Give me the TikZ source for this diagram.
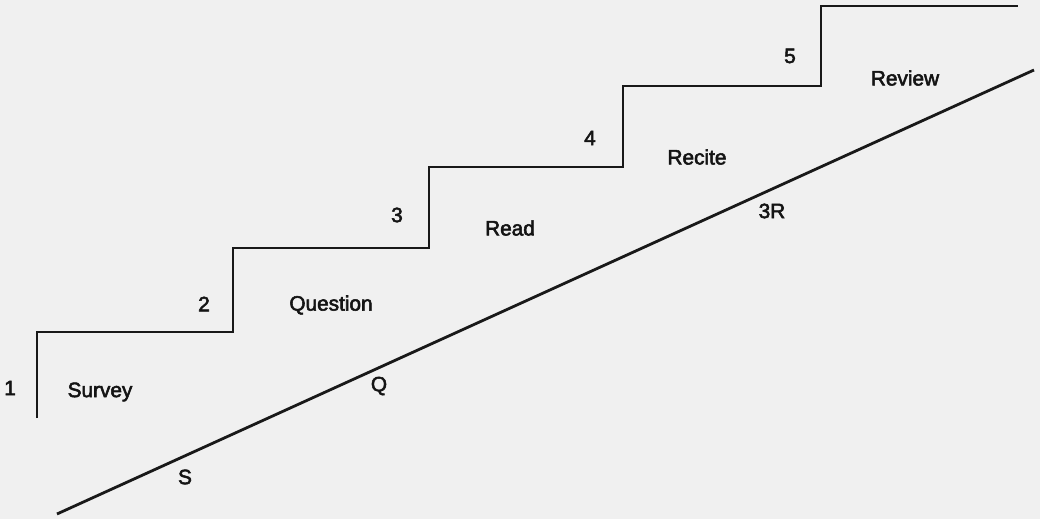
\documentclass[tikz,border=0pt]{standalone}
\usepackage{fontspec}
\setmainfont{Liberation Sans}
\newfontfamily\lblfont{Liberation Sans}[UprightFeatures={FakeBold=2.6}]
\begin{document}
\begin{tikzpicture}[x=0.5pt,y=-0.5pt,
  stair/.style={line width=1.3pt,draw=black!90,line join=miter},
  lbl/.style={font=\lblfont\fontsize{10.4}{12}\selectfont,text=black!92,inner sep=0pt}]
\fill[black!6] (0,0) rectangle (1040,519);
\useasboundingbox (0,0) rectangle (1040,519);
% staircase corners
\coordinate (p0) at (37,418);
\coordinate (p1) at (37,332);
\coordinate (p2) at (233,332);
\coordinate (p3) at (233,248);
\coordinate (p4) at (429,248);
\coordinate (p5) at (429,167);
\coordinate (p6) at (623,167);
\coordinate (p7) at (623,86);
\coordinate (p8) at (821,86);
\coordinate (p9) at (821,6);
\coordinate (p10) at (1018,6);
\draw[stair] (p0) -- (p1) -- (p2) -- (p3) -- (p4) -- (p5) -- (p6) -- (p7) -- (p8) -- (p9) -- (p10);
% diagonal
\coordinate (d0) at (57,514);
\coordinate (d1) at (1034,70);
\draw[stair,line width=1.4pt] (d0) -- (d1);
% labels
\node[lbl] (n1) at (10,388) {1};
\node[lbl] (sv) at (100,392) {Survey};
\node[lbl] (n2) at (204,304) {2};
\node[lbl] (qu) at (331,305) {Question};
\node[lbl] (n3) at (397,215) {3};
\node[lbl] (rd) at (510,228) {Read};
\node[lbl] (n4) at (590,138) {4};
\node[lbl] (rc) at (697,157) {Recite};
\node[lbl] (n5) at (790,56) {5};
\node[lbl] (rv) at (905,78) {Review};
\node[lbl] (s) at (185,477) {S};
\node[lbl] (q) at (379,386) {Q};
\node[lbl] (r3) at (772,211) {3R};
\end{tikzpicture}
\end{document}
